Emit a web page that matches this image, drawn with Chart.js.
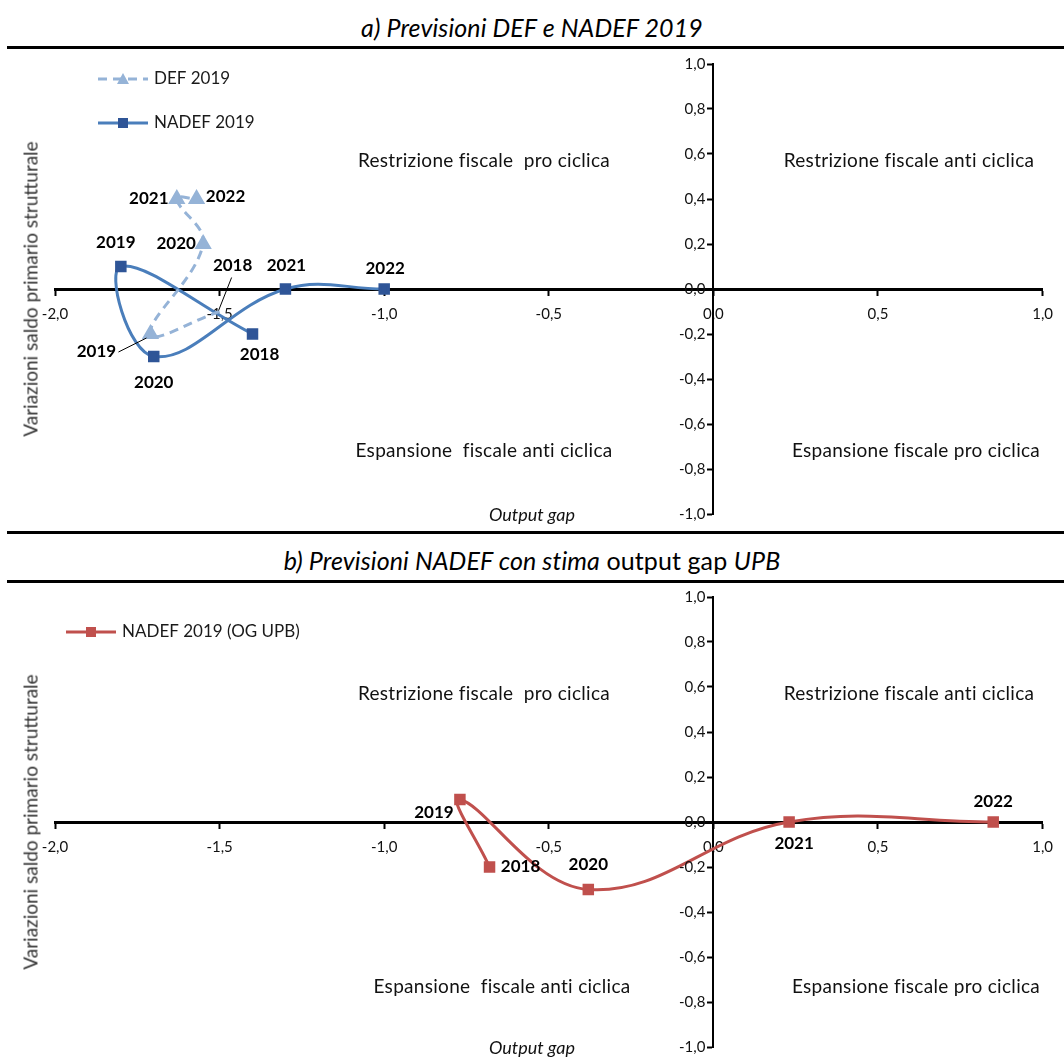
<!DOCTYPE html>
<html lang="it">
<head>
<meta charset="utf-8">
<title>Previsioni DEF e NADEF 2019</title>
<script src="https://cdn.jsdelivr.net/npm/chart.js@4.4.1/dist/chart.umd.min.js"></script>
<style>
  html, body { margin: 0; padding: 0; background: #fff; }
  body {
    width: 1064px; height: 1059px; position: relative; overflow: hidden;
    font-family: Lato, "Open Sans", sans-serif; color: #000;
  }
  .panel-title { position: absolute; left: 0; width: 1064px; text-align: center; font-size: 25px; letter-spacing: 0.1px; }
  .panel-title i { font-style: italic; }
  .rule { position: absolute; left: 7px; right: 0; height: 3px; background: #000; }
  .plot { position: absolute; left: 0; }
  .quad {
    position: absolute; font-size: 19px; letter-spacing: 0.3px; white-space: pre; color: #111;
    transform: translate(-50%, -50%);
  }
  .ytitle {
    position: absolute; font-size: 19px; white-space: nowrap; color: #333;
    transform: translate(-50%, -50%) rotate(-90deg);
  }
  .xtitle { position: absolute; font-size: 18px; font-style: italic; color: #111; transform: translate(-50%, -50%); }
</style>
</head>
<body>

<div class="panel-title" style="top:12px"><i>a) Previsioni DEF e NADEF 2019</i></div>
<div class="rule" style="top:46px"></div>
<canvas id="chart_a" class="plot" style="top:50px"></canvas>
<div class="quad" style="left:484px; top:159px">Restrizione fiscale  pro ciclica</div>
<div class="quad" style="left:909px; top:159px">Restrizione fiscale anti ciclica</div>
<div class="quad" style="left:484px; top:449px">Espansione  fiscale anti ciclica</div>
<div class="quad" style="left:916px; top:449px">Espansione fiscale pro ciclica</div>
<div class="ytitle" style="left:30px; top:289px">Variazioni saldo primario strutturale</div>
<div class="xtitle" style="left:532px; top:514px">Output gap</div>

<div class="rule" style="top:531px"></div>
<div class="panel-title" style="top:545px"><i>b) Previsioni NADEF con stima</i> output gap <i>UPB</i></div>
<div class="rule" style="top:580px"></div>
<canvas id="chart_b" class="plot" style="top:583px"></canvas>
<div class="quad" style="left:484px; top:692px">Restrizione fiscale  pro ciclica</div>
<div class="quad" style="left:909px; top:692px">Restrizione fiscale anti ciclica</div>
<div class="quad" style="left:502px; top:985px">Espansione  fiscale anti ciclica</div>
<div class="quad" style="left:916px; top:985px">Espansione fiscale pro ciclica</div>
<div class="ytitle" style="left:30px; top:822px">Variazioni saldo primario strutturale</div>
<div class="xtitle" style="left:532px; top:1047px">Output gap</div>

<script>
// Anni di previsione (categorie)
const years = ["2018", "2019", "2020", "2021", "2022"];

// Pannello a) - DEF 2019
const defOutputGap = [-1.5, -1.71, -1.55, -1.63, -1.57];
const defSaldo = [-0.1, -0.2, 0.2, 0.4, 0.4];

// Pannello a) - NADEF 2019
const nadefOutputGap = [-1.4, -1.8, -1.7, -1.3, -1.0];
const nadefSaldo = [-0.2, 0.1, -0.3, 0.0, 0.0];

// Pannello b) - NADEF 2019 con output gap UPB
const upbOutputGap = [-0.68, -0.77, -0.38, 0.23, 0.85];
const upbSaldo = [-0.2, 0.1, -0.3, 0.0, 0.0];

// Tick labels
const xTicks = [-2.0, -1.5, -1.0, -0.5, 0.0, 0.5, 1.0];
const yTicks = [-1.0, -0.8, -0.6, -0.4, -0.2, 0.0, 0.2, 0.4, 0.6, 0.8, 1.0];

// label offsets (px) relative to the marker: [dx, dy, leader line?]
const defLabelPos = [[13, -46, true], [-54, 18, true], [-27, 0], [-28, 0], [29, -2]];
const nadefLabelPos = [[7, 21], [-5, -24], [0, 26], [1, -23], [1, -20]];
const upbLabelPos = [[31, 0], [-26, 13], [0, -25], [5, 22], [0, -20]];

const TICK_FONT = "15px Lato, sans-serif";

const fmt = function (v) {
  return v.toFixed(1).replace(".", ",");
};

const toPoints = function (xs, ys) {
  return xs.map(function (x, i) {
    return { x: x, y: ys[i] };
  });
};

// Etichette degli anni accanto ai punti
const yearLabelPlugin = {
  id: "yearLabels",
  afterDatasetsDraw: function (chart) {
    const ctx = chart.ctx;
    ctx.save();
    ctx.font = "bold 17px Lato, sans-serif";
    ctx.textAlign = "center";
    ctx.textBaseline = "middle";
    chart.data.datasets.forEach(function (ds, i) {
      if (!ds.yearLabels) return;
      const meta = chart.getDatasetMeta(i);
      meta.data.forEach(function (pt, j) {
        const pos = ds.labelPos[j];
        const lx = pt.x + pos[0];
        const ly = pt.y + pos[1];
        ctx.fillStyle = "#000";
        ctx.fillText(ds.yearLabels[j], lx, ly);
        if (pos[2]) {
          // leader line
          ctx.strokeStyle = "#000";
          ctx.lineWidth = 1;
          ctx.beginPath();
          if (pos[0] < 0) {
            ctx.moveTo(lx + 22, ly);
            ctx.lineTo(pt.x - 4, pt.y + 4);
          } else {
            ctx.moveTo(lx - 1, ly + 12);
            ctx.lineTo(pt.x - 1, pt.y - 1);
          }
          ctx.stroke();
        }
      });
    });
    ctx.restore();
  },
};

// y tick labels to the left of the central axis (Chart.js puts them on the line)
const yTickLabelPlugin = {
  id: "yTickLabels",
  afterDraw: function (chart) {
    const ctx = chart.ctx;
    const axisX = chart.scales.x.getPixelForValue(0);
    ctx.save();
    ctx.font = TICK_FONT;
    ctx.fillStyle = "#111";
    ctx.textAlign = "right";
    ctx.textBaseline = "middle";
    yTicks.forEach(function (v) {
      ctx.fillText(fmt(v), axisX - 8, chart.scales.y.getPixelForValue(v));
    });
    ctx.restore();
  },
};

// Legenda disegnata in alto a sinistra
const legendPlugin = {
  id: "cornerLegend",
  afterDraw: function (chart) {
    const items = chart.options.plugins.cornerLegend.items;
    const ctx = chart.ctx;
    ctx.save();
    items.forEach(function (it) {
      const ds = chart.data.datasets[it.dataset];
      ctx.strokeStyle = ds.borderColor;
      ctx.lineWidth = ds.borderWidth;
      ctx.setLineDash(ds.borderDash || []);
      ctx.beginPath();
      ctx.moveTo(it.x, it.y);
      ctx.lineTo(it.x + 50, it.y);
      ctx.stroke();
      ctx.setLineDash([]);
      ctx.fillStyle = ds.pointBackgroundColor;
      const cx = it.x + 25;
      if (ds.pointStyle === "triangle") {
        ctx.beginPath();
        ctx.moveTo(cx, it.y - 6);
        ctx.lineTo(cx + 6, it.y + 5);
        ctx.lineTo(cx - 6, it.y + 5);
        ctx.closePath();
        ctx.fill();
      } else {
        ctx.fillRect(cx - 5, it.y - 5, 10, 10);
      }
      ctx.fillStyle = "#1a1a1a";
      ctx.font = "17px Lato, sans-serif";
      ctx.textAlign = "left";
      ctx.textBaseline = "middle";
      ctx.fillText(ds.label, it.x + 56, it.y);
    });
    ctx.restore();
  },
};

const ChartPage = {
  init: function () {
    this.drawPanelA();
    this.drawPanelB();
  },

  scales: function () {
    const tickStyle = { size: 15, family: "Lato, sans-serif" };
    return {
      x: {
        type: "linear",
        position: { y: 0 },
        min: -2,
        max: 1,
        afterBuildTicks: function (axis) {
          axis.ticks = xTicks.map(function (v) { return { value: v }; });
        },
        grid: { drawOnChartArea: false, drawTicks: true, tickLength: 5, tickWidth: 2, tickColor: "#000" },
        border: { display: true, color: "#000", width: 3 },
        ticks: { color: "#111", font: tickStyle, padding: 11, maxRotation: 0, autoSkip: false, callback: fmt },
      },
      y: {
        type: "linear",
        position: { x: 0 },
        min: -1,
        max: 1,
        afterBuildTicks: function (axis) {
          axis.ticks = yTicks.map(function (v) { return { value: v }; });
        },
        grid: { drawOnChartArea: false, drawTicks: true, tickLength: 5, tickWidth: 2, tickColor: "#000" },
        border: { display: true, color: "#000", width: 2 },
        ticks: { display: false },
      },
    };
  },

  baseOptions: function (legendItems, padding) {
    return {
      responsive: false,
      animation: false,
      layout: { padding: padding },
      plugins: {
        legend: { display: false },
        tooltip: { enabled: false },
        cornerLegend: { items: legendItems },
      },
      scales: this.scales(),
    };
  },

  drawPanelA: function () {
    const canvas = document.getElementById("chart_a");
    canvas.width = 1064;
    canvas.height = 480;
    new Chart(canvas, {
      type: "scatter",
      data: {
        datasets: [
          {
            label: "DEF 2019",
            data: toPoints(defOutputGap, defSaldo),
            showLine: true,
            tension: 0.4,
            borderColor: "#95b3d7",
            borderWidth: 3,
            borderDash: [9, 6],
            pointStyle: "triangle",
            pointRadius: [0, 7, 7, 7, 7],
            pointBackgroundColor: "#95b3d7",
            pointBorderColor: "#95b3d7",
            yearLabels: years,
            labelPos: defLabelPos,
          },
          {
            label: "NADEF 2019",
            data: toPoints(nadefOutputGap, nadefSaldo),
            showLine: true,
            tension: 0.4,
            borderColor: "#4a7ebb",
            borderWidth: 3,
            pointStyle: "rect",
            pointRadius: 6,
            pointBackgroundColor: "#2f5597",
            pointBorderColor: "#2f5597",
            yearLabels: years,
            labelPos: nadefLabelPos,
          },
        ],
      },
      options: this.baseOptions(
        [
          { dataset: 0, x: 98, y: 29 },
          { dataset: 1, x: 98, y: 73 },
        ],
        { left: 55, right: 18, top: 14, bottom: 16 },
      ),
      plugins: [yTickLabelPlugin, yearLabelPlugin, legendPlugin],
    });
  },

  drawPanelB: function () {
    const canvas = document.getElementById("chart_b");
    canvas.width = 1064;
    canvas.height = 476;
    new Chart(canvas, {
      type: "scatter",
      data: {
        datasets: [
          {
            label: "NADEF 2019 (OG UPB)",
            data: toPoints(upbOutputGap, upbSaldo),
            showLine: true,
            tension: 0.4,
            borderColor: "#c0504d",
            borderWidth: 3,
            pointStyle: "rect",
            pointRadius: 6,
            pointBackgroundColor: "#c0504d",
            pointBorderColor: "#c0504d",
            yearLabels: years,
            labelPos: upbLabelPos,
          },
        ],
      },
      options: this.baseOptions(
        [{ dataset: 0, x: 66, y: 49 }],
        { left: 55, right: 18, top: 14, bottom: 12 },
      ),
      plugins: [yTickLabelPlugin, yearLabelPlugin, legendPlugin],
    });
  },
};

ChartPage.init();
</script>
</body>
</html>
